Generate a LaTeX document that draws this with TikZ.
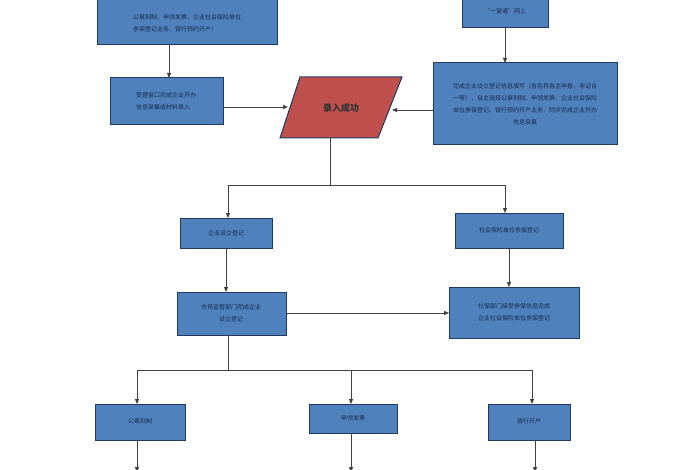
\documentclass[tikz,border=0pt]{standalone}
\usepackage{fontspec}
\setmainfont{Noto Sans CJK SC}
\usetikzlibrary{arrows.meta}
\definecolor{bfill}{HTML}{4F81BD}
\definecolor{bline}{HTML}{1F3A60}
\definecolor{rfill}{HTML}{C0504D}
\begin{document}
\begin{tikzpicture}[x=1pt,y=-1pt,
  bx/.style={draw=bline,line width=1pt,fill=bfill},
  tx/.style={font=\fontsize{6}{12}\selectfont,text=bline!80!black,align=center},
  ar/.style={draw=black!75,line width=0.8pt,-{Triangle[length=5pt,width=4pt]}},
  ln/.style={draw=black!75,line width=0.8pt}]
\useasboundingbox (0,0) rectangle (700,470);
% top left
\draw[bx] (97,-5) rectangle (277,45);
\node[tx,align=left] (tl) at (187,23) {公章刻制、申领发票、企业社会保险单位\\参保登记业务、银行预约开户）};
\coordinate (tlb) at (169,45);
\draw[bx] (110,78) rectangle (223,125);
\node[tx,align=left] (lb) at (166,101) {受理窗口完成企业开办\\信息采集或材料录入};
\draw[ar] (tlb) -- (169,78);
% parallelogram
\draw[draw=bline,line width=1pt,fill=rfill] (300,77) -- (402,77) -- (378,138) -- (280,138) -- cycle;
\node[font=\fontsize{9}{10}\selectfont\bfseries,text=black!80] (ok) at (341,108) {录入成功};
\draw[ar] (223,107) -- (288,107);
% top right
\draw[bx] (462,-5) rectangle (548,28);
\node[tx] (tr) at (505,11) {“一窗通”网上};
\draw[bx] (433,63) rectangle (617,145);
\node[tx] (rb) at (525,104) {完成企业设立登记信息填写（含名称自主申报，非证合\\一等），自主选择公章刻制、申领发票、企业社会保险\\单位参保登记、银行预约开户业务，同步完成企业开办\\信息采集};
\draw[ar] (505,28) -- (505,63);
\draw[ar] (433,110) -- (392,110);
% split 1
\draw[ln] (330,138) -- (330,185);
\draw[ln] (228,185) -- (505,185);
\draw[ar] (228,185) -- (228,218);
\draw[ar] (505,185) -- (505,213);
\draw[bx] (180,218) rectangle (272,248);
\node[tx] (a1) at (226,233) {企业设立登记};
\draw[bx] (455,213) rectangle (563,248);
\node[tx] (b1) at (509,230) {社会保险单位参保登记};
\draw[ar] (226,248) -- (226,292);
\draw[ar] (509,248) -- (509,287);
\draw[bx] (177,292) rectangle (286,335);
\node[tx] (a2) at (231,313) {市场监管部门完成企业\\设立登记};
\draw[bx] (449,287) rectangle (579,338);
\node[tx] (b2) at (514,312) {社保部门接受参保信息完成\\企业社会保险单位参保登记};
\draw[ar] (286,313) -- (449,313);
% split 2
\draw[ln] (228,335) -- (228,370);
\draw[ln] (137,370) -- (532,370);
\draw[ar] (137,370) -- (137,404);
\draw[ar] (351,370) -- (351,404);
\draw[ar] (532,370) -- (532,404);
\draw[bx] (95,404) rectangle (185,440);
\node[tx] (c1) at (140,421) {公章刻制};
\draw[bx] (309,404) rectangle (397,433);
\node[tx] (c2) at (353,418) {申领发票};
\draw[bx] (488,404) rectangle (570,440);
\node[tx] (c3) at (529,421) {银行开户};
\draw[ar] (137,440) -- (137,472);
\draw[ar] (351,433) -- (351,472);
\draw[ar] (535,440) -- (535,472);
\end{tikzpicture}
\end{document}
